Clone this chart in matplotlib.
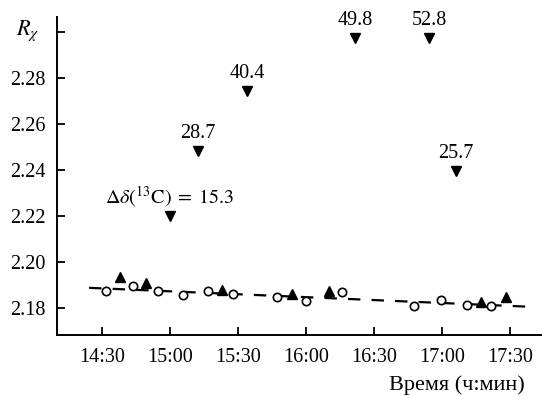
import numpy as np
import matplotlib.pyplot as plt
from matplotlib.ticker import FixedLocator, FuncFormatter

plt.rcParams['font.family'] = ['Liberation Serif', 'DejaVu Serif']
plt.rcParams['mathtext.fontset'] = 'stix'

# time in hours (decimal), R_chi values
shift_t = [15.000, 15.203, 15.569, 16.360, 16.905, 17.100]
shift_r = [2.2202, 2.2484, 2.2745, 2.2974, 2.2974, 2.2397]
shift_labels = [r'$\Delta\delta(^{13}\mathrm{C})\;=\;15.3$', '28.7', '40.4', '49.8', '52.8', '25.7']

open_t = [14.527, 14.730, 14.910, 15.093, 15.282, 15.465, 15.785, 15.998,
          16.267, 16.793, 16.993, 17.182, 17.358]
open_r = [2.1875, 2.1896, 2.1875, 2.1857, 2.1874, 2.1860, 2.1847, 2.1830,
          2.1868, 2.1809, 2.1833, 2.1813, 2.1809]

up_t = [14.635, 14.822, 15.385, 15.900, 16.172, 17.287, 17.470]
up_r = [2.1933, 2.1907, 2.1878, 2.1861, 2.1874, 2.1825, 2.1849]

fit_t = [14.405, 17.633]
fit_r = [2.1888, 2.1806]

xticks = [14.5, 15.0, 15.5, 16.0, 16.5, 17.0, 17.5]
yticks = [2.18, 2.20, 2.22, 2.24, 2.26, 2.28, 2.30]

fig = plt.figure(figsize=(5.42, 3.96), dpi=100)
ax = fig.add_axes([57 / 542, 61 / 396, 1 - 57 / 542, 318 / 396])

ax.plot(fit_t, fit_r, color='black', lw=1.6, linestyle=(0, (5.6, 5.0)), zorder=1)
ax.plot(open_t, open_r, 'o', ms=6, mfc='white', mec='black', mew=1.2, zorder=3)
ax.plot(up_t, up_r, '^', ms=7.5, color='black', zorder=3)
ax.plot(shift_t, shift_r, 'v', ms=7.5, color='black', zorder=3)

for t, r, lab in zip(shift_t, shift_r, shift_labels):
    ax.annotate(lab, (t, r), xytext=(0, 9), textcoords='offset points',
                ha='center', va='baseline', fontsize=14.5)

ax.set_xlim(14.169, 17.735)
ax.set_ylim(2.1683, 2.3065)

ax.xaxis.set_major_locator(FixedLocator(xticks))
ax.xaxis.set_major_formatter(FuncFormatter(
    lambda v, p: '%d:%02d' % (int(v), round((v - int(v)) * 60))))
ax.yaxis.set_major_locator(FixedLocator(yticks))
ax.yaxis.set_major_formatter(FuncFormatter(
    lambda v, p: '' if v > 2.29 else '%.2f' % v))

ax.tick_params(direction='in', length=6, width=1.3, labelsize=14.5)
ax.tick_params(axis='x', pad=9)
ax.tick_params(axis='y', pad=8)

for s in ['top', 'right']:
    ax.spines[s].set_visible(False)
for s in ['left', 'bottom']:
    ax.spines[s].set_linewidth(1.4)

fig.text(28 / 542, 1 - 31 / 396, r'$R_\chi$', fontsize=16, ha='center', va='center')
fig.text(525 / 542, 1 - 385 / 396, 'Время (ч:мин)', fontsize=16, ha='right', va='center')

fig.savefig('out.png', dpi=100)
